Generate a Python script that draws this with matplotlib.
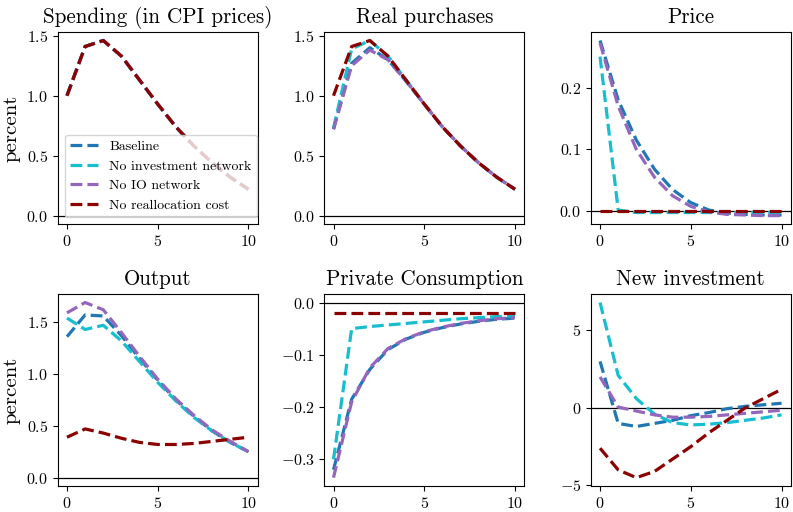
import matplotlib
matplotlib.use('Agg')
import matplotlib.pyplot as plt
from matplotlib.ticker import MultipleLocator
import numpy as np

plt.rcParams['font.family'] = 'serif'
plt.rcParams['font.serif'] = ['cmr10']
plt.rcParams['mathtext.fontset'] = 'cm'
plt.rcParams['axes.formatter.use_mathtext'] = True

horizon = np.arange(11)

scenarios = ['Baseline', 'No investment network', 'No IO network', 'No reallocation cost']
colors = ['tab:blue', 'tab:cyan', 'tab:purple', 'darkred']

# impulse responses, one list per scenario in the order above
spending = [
    [1.0, 1.41, 1.46, 1.33, 1.13, 0.93, 0.74, 0.58, 0.44, 0.32, 0.22],
    [1.0, 1.41, 1.46, 1.33, 1.13, 0.93, 0.74, 0.58, 0.44, 0.32, 0.22],
    [1.0, 1.41, 1.46, 1.33, 1.13, 0.93, 0.74, 0.58, 0.44, 0.32, 0.22],
    [1.0, 1.41, 1.46, 1.33, 1.13, 0.93, 0.74, 0.58, 0.44, 0.32, 0.22],
]
real_purchases = [
    [0.72, 1.27, 1.40, 1.30, 1.12, 0.93, 0.74, 0.58, 0.44, 0.32, 0.22],
    [0.73, 1.39, 1.46, 1.33, 1.13, 0.93, 0.74, 0.58, 0.44, 0.32, 0.22],
    [0.72, 1.25, 1.38, 1.30, 1.12, 0.93, 0.74, 0.58, 0.44, 0.32, 0.22],
    [1.0, 1.41, 1.46, 1.33, 1.13, 0.93, 0.74, 0.58, 0.44, 0.32, 0.22],
]
price = [
    [0.276, 0.18, 0.115, 0.068, 0.035, 0.014, 0.002, -0.003, -0.005, -0.006, -0.006],
    [0.25, 0.002, -0.002, -0.002, -0.002, -0.002, -0.002, -0.002, -0.002, -0.002, -0.002],
    [0.272, 0.17, 0.10, 0.055, 0.025, 0.008, -0.001, -0.005, -0.006, -0.007, -0.007],
    [0.0, 0.0, 0.0, 0.0, 0.0, 0.0, 0.0, 0.0, 0.0, 0.0, 0.0],
]
output = [
    [1.36, 1.57, 1.56, 1.37, 1.15, 0.94, 0.75, 0.59, 0.45, 0.34, 0.25],
    [1.54, 1.43, 1.47, 1.32, 1.12, 0.92, 0.74, 0.58, 0.45, 0.34, 0.25],
    [1.59, 1.69, 1.62, 1.40, 1.17, 0.95, 0.76, 0.60, 0.46, 0.35, 0.25],
    [0.39, 0.47, 0.43, 0.38, 0.34, 0.32, 0.32, 0.33, 0.35, 0.37, 0.39],
]
consumption = [
    [-0.32, -0.185, -0.128, -0.09, -0.07, -0.057, -0.048, -0.041, -0.036, -0.032, -0.03],
    [-0.30, -0.05, -0.046, -0.043, -0.04, -0.037, -0.034, -0.031, -0.029, -0.027, -0.025],
    [-0.335, -0.19, -0.125, -0.088, -0.069, -0.056, -0.047, -0.04, -0.035, -0.031, -0.029],
    [-0.02, -0.02, -0.02, -0.02, -0.02, -0.02, -0.02, -0.02, -0.02, -0.02, -0.02],
]
new_investment = [
    [3.0, -1.0, -1.2, -1.0, -0.8, -0.5, -0.3, -0.05, 0.1, 0.2, 0.3],
    [6.8, 2.1, 0.6, -0.4, -0.95, -1.1, -1.05, -0.95, -0.8, -0.65, -0.45],
    [2.0, 0.05, -0.2, -0.45, -0.6, -0.6, -0.55, -0.45, -0.35, -0.25, -0.15],
    [-2.6, -4.0, -4.5, -4.1, -3.3, -2.5, -1.6, -0.8, 0.0, 0.6, 1.2],
]

panels = [
    ('Spending (in CPI prices)', spending),
    ('Real purchases', real_purchases),
    ('Price', price),
    ('Output', output),
    ('Private Consumption', consumption),
    ('New investment', new_investment),
]

fig, axes = plt.subplots(2, 3, figsize=(7.93, 5.12), dpi=100)
for ax, (title, series) in zip(axes.flat, panels):
    ax.axhline(0, color='black', linewidth=0.9)
    for vals, lab, col in zip(series, scenarios, colors):
        ax.plot(horizon, vals, '--', color=col, linewidth=2.3, label=lab)
    ax.set_title(title, fontsize=15.2)
    ax.set_xticks([0, 5, 10])
    ax.tick_params(labelsize=11.5)

axes[1, 2].yaxis.set_major_locator(MultipleLocator(5))

for ax in axes[:, 0]:
    ax.set_ylabel('percent', fontsize=15)

axes[0, 0].legend(loc='lower left', fontsize=10)

fig.subplots_adjust(left=0.073, right=0.997, top=0.938, bottom=0.05, wspace=0.335, hspace=0.36)
fig.savefig('out.png', dpi=100)
